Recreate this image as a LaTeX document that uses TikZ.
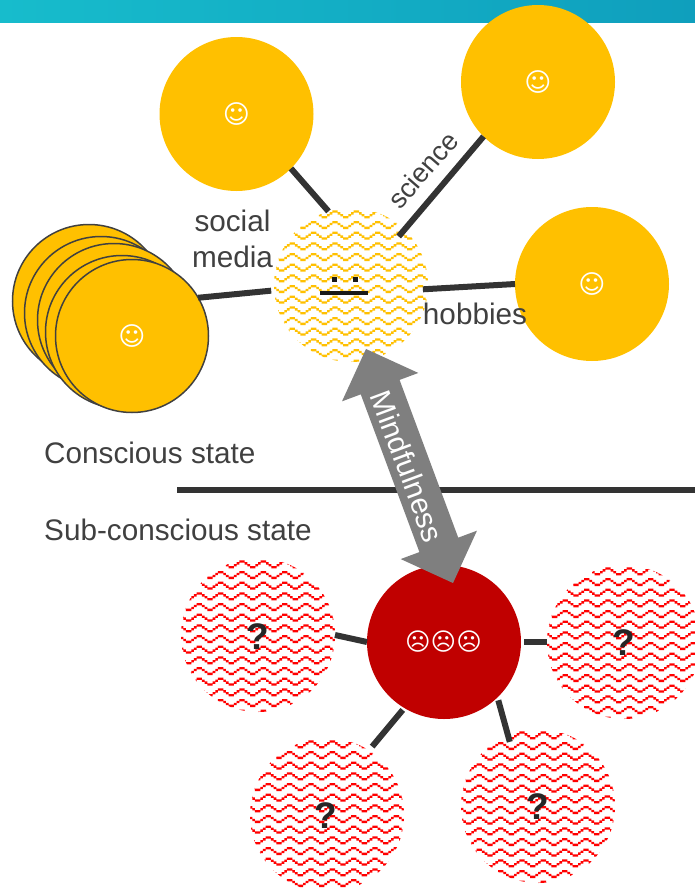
\documentclass[tikz,border=0pt]{standalone}
\usepackage{fontspec}
\setmainfont{Liberation Sans}
\newfontfamily\symfont{DejaVu Sans}
\usetikzlibrary{shapes.arrows,calc}
\definecolor{gold}{HTML}{FFC000}
\definecolor{dred}{HTML}{C00000}
\definecolor{ink}{HTML}{404040}
\definecolor{linkc}{HTML}{333333}
\definecolor{arrowc}{HTML}{7F7F7F}
\definecolor{tealL}{HTML}{17BCCC}
\definecolor{tealR}{HTML}{0F9FBD}
\tikzset{
  x=1pt,y=-1pt,
  ball/.style={circle,minimum size=154pt,inner sep=0pt,outer sep=0pt},
  happy/.style={ball,fill=gold,text=white,font=\symfont\fontsize{26}{26}\selectfont},
  stacked/.style={happy,draw=ink,line width=1.5pt,minimum size=153pt},
  wavy/.style n args={3}{ball,fill=white,path picture={
    \begin{scope}[shift={(path picture bounding box.center)},shift={(#2,#3)}]
    \fill[#1] \foreach \rw in {-9,...,9}{\foreach \k in {-6,...,5}{
      \foreach \dx/\dy in {0/1,1/0,2/0,3/1,4/2,5/3,6/3,7/2}{
        ({(\k*8+\dx)*2.667},{\rw*10.667+\dy*1.9}) rectangle +(2.667,2.3)
      }}};
    \end{scope}}},
  link/.style={draw=linkc,line width=6pt},
  lab/.style={text=ink,font=\fontsize{29.7}{36}\selectfont,inner sep=0pt},
  quest/.style={text=black!85,font=\bfseries\fontsize{37}{37}\selectfont,inner sep=0pt},
  sadface/.style={text=white,font=\symfont\fontsize{24.5}{25}\selectfont,inner sep=0pt},
}
\begin{document}
\begin{tikzpicture}
\useasboundingbox (0,0) rectangle (695,889);
\fill[left color=tealL,right color=tealR] (0,0) rectangle (695,22);

\node[stacked] (s1) at (89,301) {};
\node[stacked] (s2) at (101,313) {};
\node[stacked] (s3) at (114,320) {};
\node[stacked] (s4) at (122,332) {};
\node[stacked] (s5) at (132,336) {\raisebox{-2pt}{☺}};

\node[happy] (a) at (236.5,114) {\raisebox{-2pt}{☺}};
\node[happy] (b) at (538,82) {\raisebox{-2pt}{☺}};
\node[happy] (d) at (592,284) {\raisebox{-2pt}{☺}};
\node[wavy={gold}{-11}{-5}] (c) at (351,285) {};
\node[ball,fill=dred] (r) at (444,642) {};
\node[wavy={red}{-20.33}{-5}] (q1) at (258,635) {};
\node[wavy={red}{-5.33}{-2.6}] (q2) at (624,642) {};
\node[wavy={red}{-8.63}{-4.3}] (q3) at (327,815) {};
\node[wavy={red}{-7.03}{-7}] (q4) at (538,806) {};

% neutral face
\fill[black!90] ($(c)+(-19.5,-8.5)$) rectangle +(5,5);
\fill[black!90] ($(c)+(1.5,-8.5)$) rectangle +(5,5);
\fill[black!90] ($(c)+(-31,6)$) rectangle +(48,4);

\draw[link] (a.-45) -- (c.107);
\draw[link,shorten >=-9pt] (b.225) -- (c.46);
\draw[link,shorten <=-5pt] (c.-3) -- (d.180);
\draw[link,shorten >=3pt] (s5.30) -- (c.184);
\draw[link] (q1.0) -- (r.180);
\draw[link,shorten <=3pt] (r.0) -- (q2.180);
\draw[link,shorten <=2.5pt,shorten >=5pt] (r.239) -- (q3.57);
\draw[link,shorten <=3pt,shorten >=-7pt] (r.-46.5) -- (q4.113.6);

\node[sadface] (f) at (443.5,642) {☹☹☹};
\node[quest] (t1) at (257.5,636.5) {?};
\node[quest] (t2) at (624,643) {?};
\node[quest] (t3) at (326,816) {?};
\node[quest] (t4) at (538,806.5) {?};

\node[lab,align=center] (social) at (232.5,239) {social\\media};
\node[lab,rotate=49,font=\fontsize{27}{30}\selectfont] (science) at (423,170) {science};
\node[lab] (hobbies) at (475,314) {hobbies};
\node[lab,anchor=west] (cons) at (44,453) {Conscious state};
\node[lab,anchor=west] (sub) at (44,530) {Sub-conscious state};

\coordinate (ruleL) at (177,490);
\coordinate (ruleR) at (695,490);
\draw[link] (ruleL) -- (ruleR);

\node[double arrow,fill=arrowc,rotate=-69.6,minimum height=249.7pt,minimum width=81pt,
  double arrow head extend=20pt,double arrow tip angle=90,inner xsep=0pt,inner ysep=9.6pt] (mind) at (409.5,466) {\phantom{\fontsize{29.7}{30}\selectfont Mindfulness}};
\node[rotate=-69.6,text=white,inner sep=0pt,font=\fontsize{29.7}{30}\selectfont] (mindtext) at (407.5,466.5) {Mindfulness};
\end{tikzpicture}
\end{document}
